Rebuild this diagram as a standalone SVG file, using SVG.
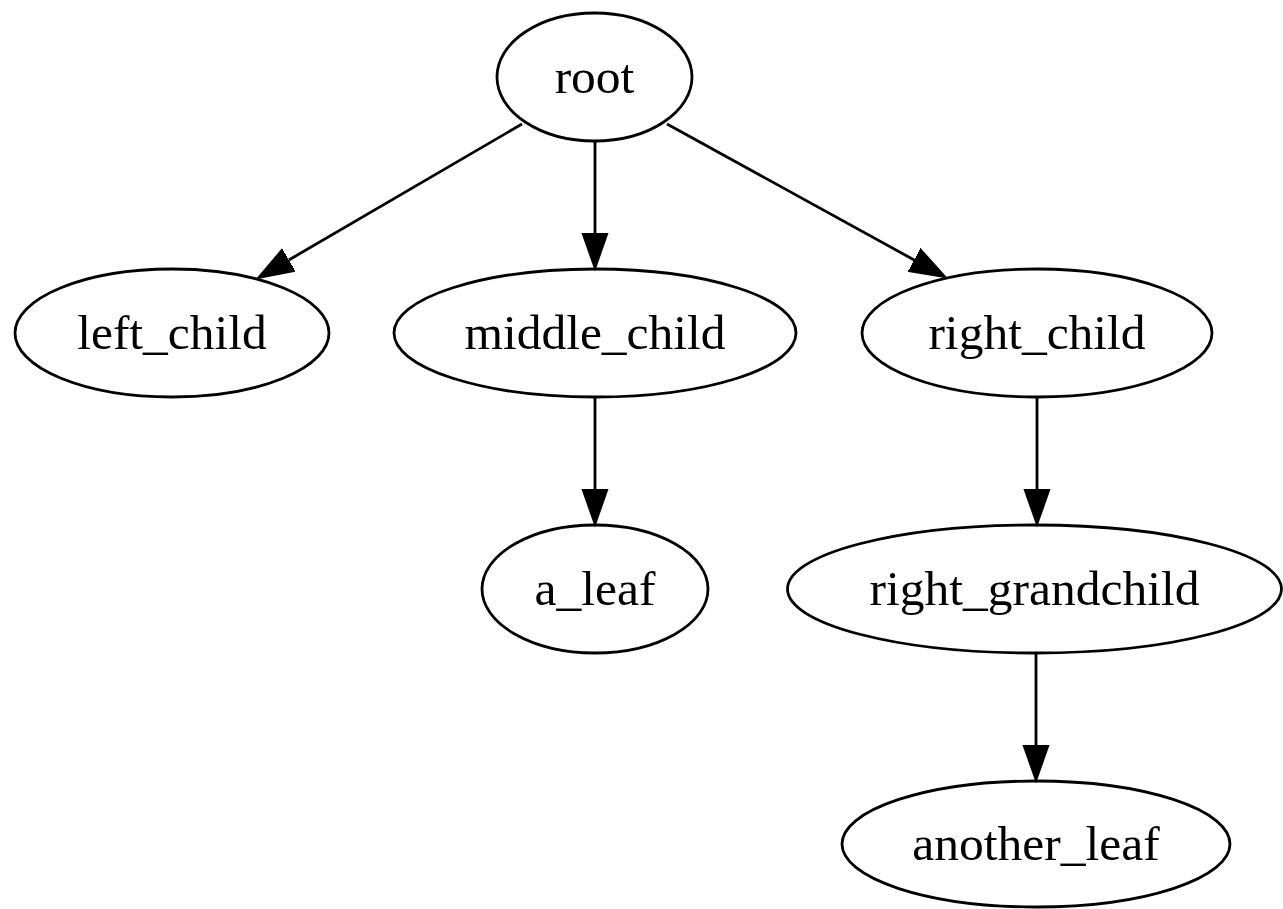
<svg xmlns="http://www.w3.org/2000/svg" width="1283" height="909" viewBox="0 0 1283 909">
<style>
.n ellipse{fill:none;stroke:#000;stroke-width:2.8}
.n text{font-family:"Liberation Serif","Times New Roman",serif;font-size:49.5px;fill:#000;text-anchor:middle}
.e line{stroke:#000;stroke-width:2.8}
</style>
<defs>
<marker id="arr" markerUnits="userSpaceOnUse" markerWidth="40" markerHeight="30" viewBox="0 -15 40 30" refX="0" refY="0" orient="auto">
<path d="M0,-12.5 L35.6,0 L0,12.5 z" fill="#000" stroke="#000" stroke-width="2"/>
</marker>
</defs>
<rect width="1283" height="909" fill="#fff"/>
<g id="edges" class="e">
<line x1="522" y1="124" x2="288.8" y2="260" marker-end="url(#arr)"/>
<line x1="595" y1="141" x2="595" y2="233" marker-end="url(#arr)"/>
<line x1="667" y1="124" x2="914.2" y2="260" marker-end="url(#arr)"/>
<line x1="595" y1="397" x2="595" y2="489" marker-end="url(#arr)"/>
<line x1="1037" y1="397" x2="1037" y2="489" marker-end="url(#arr)"/>
<line x1="1036" y1="653" x2="1036" y2="745" marker-end="url(#arr)"/>
</g>
<g id="root" class="n"><ellipse cx="594.5" cy="77" rx="97.5" ry="64"/><text x="594.5" y="93">root</text></g>
<g id="left_child" class="n"><ellipse cx="172" cy="333" rx="157" ry="64"/><text x="172" y="349">left_child</text></g>
<g id="middle_child" class="n"><ellipse cx="595" cy="333" rx="201" ry="64"/><text x="595" y="349">middle_child</text></g>
<g id="right_child" class="n"><ellipse cx="1037" cy="333" rx="175" ry="64"/><text x="1037" y="349">right_child</text></g>
<g id="a_leaf" class="n"><ellipse cx="595" cy="589" rx="113" ry="64"/><text x="595" y="605">a_leaf</text></g>
<g id="right_grandchild" class="n"><ellipse cx="1034.5" cy="589" rx="247" ry="64"/><text x="1034.5" y="605">right_grandchild</text></g>
<g id="another_leaf" class="n"><ellipse cx="1036" cy="844" rx="194" ry="63"/><text x="1036" y="860">another_leaf</text></g>
</svg>
